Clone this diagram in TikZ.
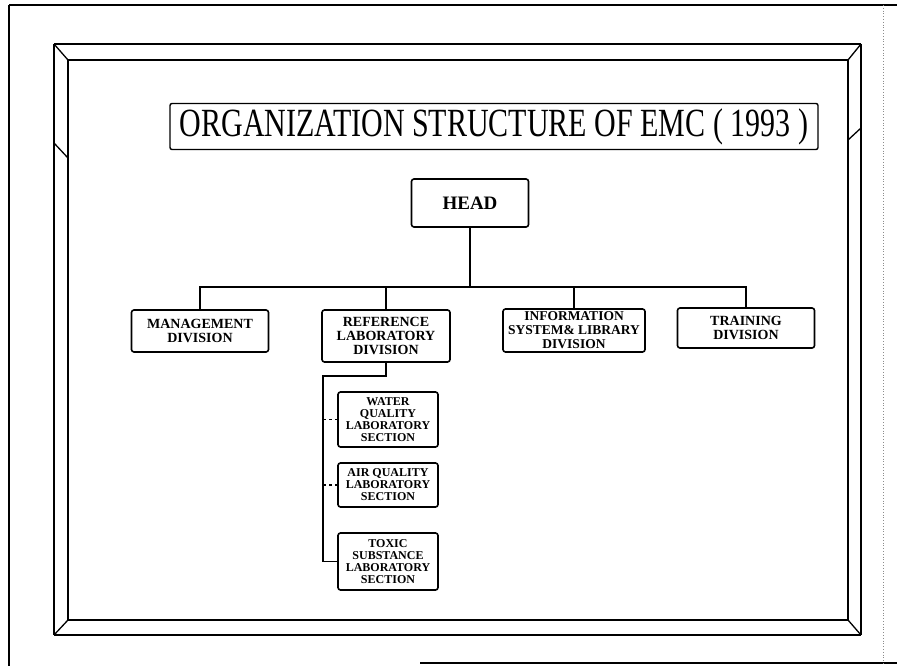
\documentclass[tikz,border=0pt]{standalone}
\usepackage{fontspec}
\usepackage{graphicx}
\setmainfont{Liberation Serif}
\begin{document}
\begin{tikzpicture}[x=1pt,y=-1pt,
  box/.style={draw, line width=1.6pt, rounded corners=2.5pt, align=center,
    font=\fontsize{14}{14}\selectfont\bfseries, inner sep=1pt},
  secbox/.style={box, font=\fontsize{12}{12}\selectfont\bfseries, minimum width=100pt},
  conn/.style={line width=1.6pt},
  frameline/.style={line width=1.3pt},
  frameside/.style={line width=2.6pt}]
\useasboundingbox (0,0) rectangle (897,666);
% page border
\draw[line width=2.6pt] (9,5) -- (9,666);
\draw[line width=1.2pt] (9,5) -- (897,5);
\draw[line width=1.2pt] (420,663) -- (897,663);
\draw[black!45, dotted, line width=0.8pt] (883,5) -- (883,666);
% picture frame
\draw[frameline] (54,44) -- (861,44);
\draw[frameline] (54,635) -- (861,635);
\draw[frameline] (68,60) -- (848,60);
\draw[frameline] (68,620) -- (848,620);
\draw[frameside] (54,44) -- (54,635);
\draw[frameside] (68,60) -- (68,620);
\draw[frameside] (848,60) -- (848,620);
\draw[frameside] (861,44) -- (861,635);
\draw[frameline] (54,44) -- (68,60);
\draw[frameline] (861,44) -- (848,60);
\draw[frameline] (861,635) -- (848,620);
\draw[frameline] (54,635) -- (68,620);
\draw[frameline] (54,143) -- (68,158);
\draw[frameline] (848,140) -- (861,128);
% title
\node[draw, line width=1.4pt, rounded corners=2pt, minimum width=648pt,
  minimum height=46pt, inner sep=0pt] (title) at (494,126.5)
  {\fontsize{40}{40}\selectfont\scalebox{0.75}[1]{ORGANIZATION STRUCTURE OF EMC ( 1993 )}};
% head
\node[box, minimum width=117pt, minimum height=48pt,
  font=\fontsize{19}{19}\selectfont\bfseries] (head) at (470,203) {HEAD};
% divisions
\node[box, minimum width=137pt, minimum height=42pt] (mgmt) at (200,331) {MANAGEMENT\\DIVISION};
\node[box, minimum width=128pt, minimum height=52pt] (ref) at (386,336) {REFERENCE\\LABORATORY\\DIVISION};
\node[box, minimum width=142pt, minimum height=43pt,
  font=\fontsize{13.5}{14}\selectfont\bfseries] (info) at (574,330.5) {INFORMATION\\SYSTEM\& LIBRARY\\DIVISION};
\node[box, minimum width=137pt, minimum height=40pt] (train) at (746,328) {TRAINING\\DIVISION};
% sections
\node[secbox, minimum height=55pt] (water) at (388,419.5) {WATER\\QUALITY\\LABORATORY\\SECTION};
\node[secbox, minimum height=44pt] (air) at (388,485) {AIR QUALITY\\LABORATORY\\SECTION};
\node[secbox, minimum height=57pt] (toxic) at (388,561.5) {TOXIC\\SUBSTANCE\\LABORATORY\\SECTION};
% connectors
\coordinate (bus) at (0,287);
\coordinate (br) at (323,376);
\draw[conn] (head.south) -- (head.south |- bus);
\draw[conn] (mgmt.north) -- (mgmt.north |- bus) -- (train.north |- bus) -- (train.north);
\draw[conn] (ref.north) -- (ref.north |- bus);
\draw[conn] (info.north) -- (info.north |- bus);
\draw[conn] (ref.south) -- (ref.south |- br) -- (br) -- (br |- toxic.west) -- (toxic.west);
\draw[conn, dashed] (br |- water.west) -- (water.west);
\draw[conn, dashed] (br |- air.west) -- (air.west);
\end{tikzpicture}
\end{document}
